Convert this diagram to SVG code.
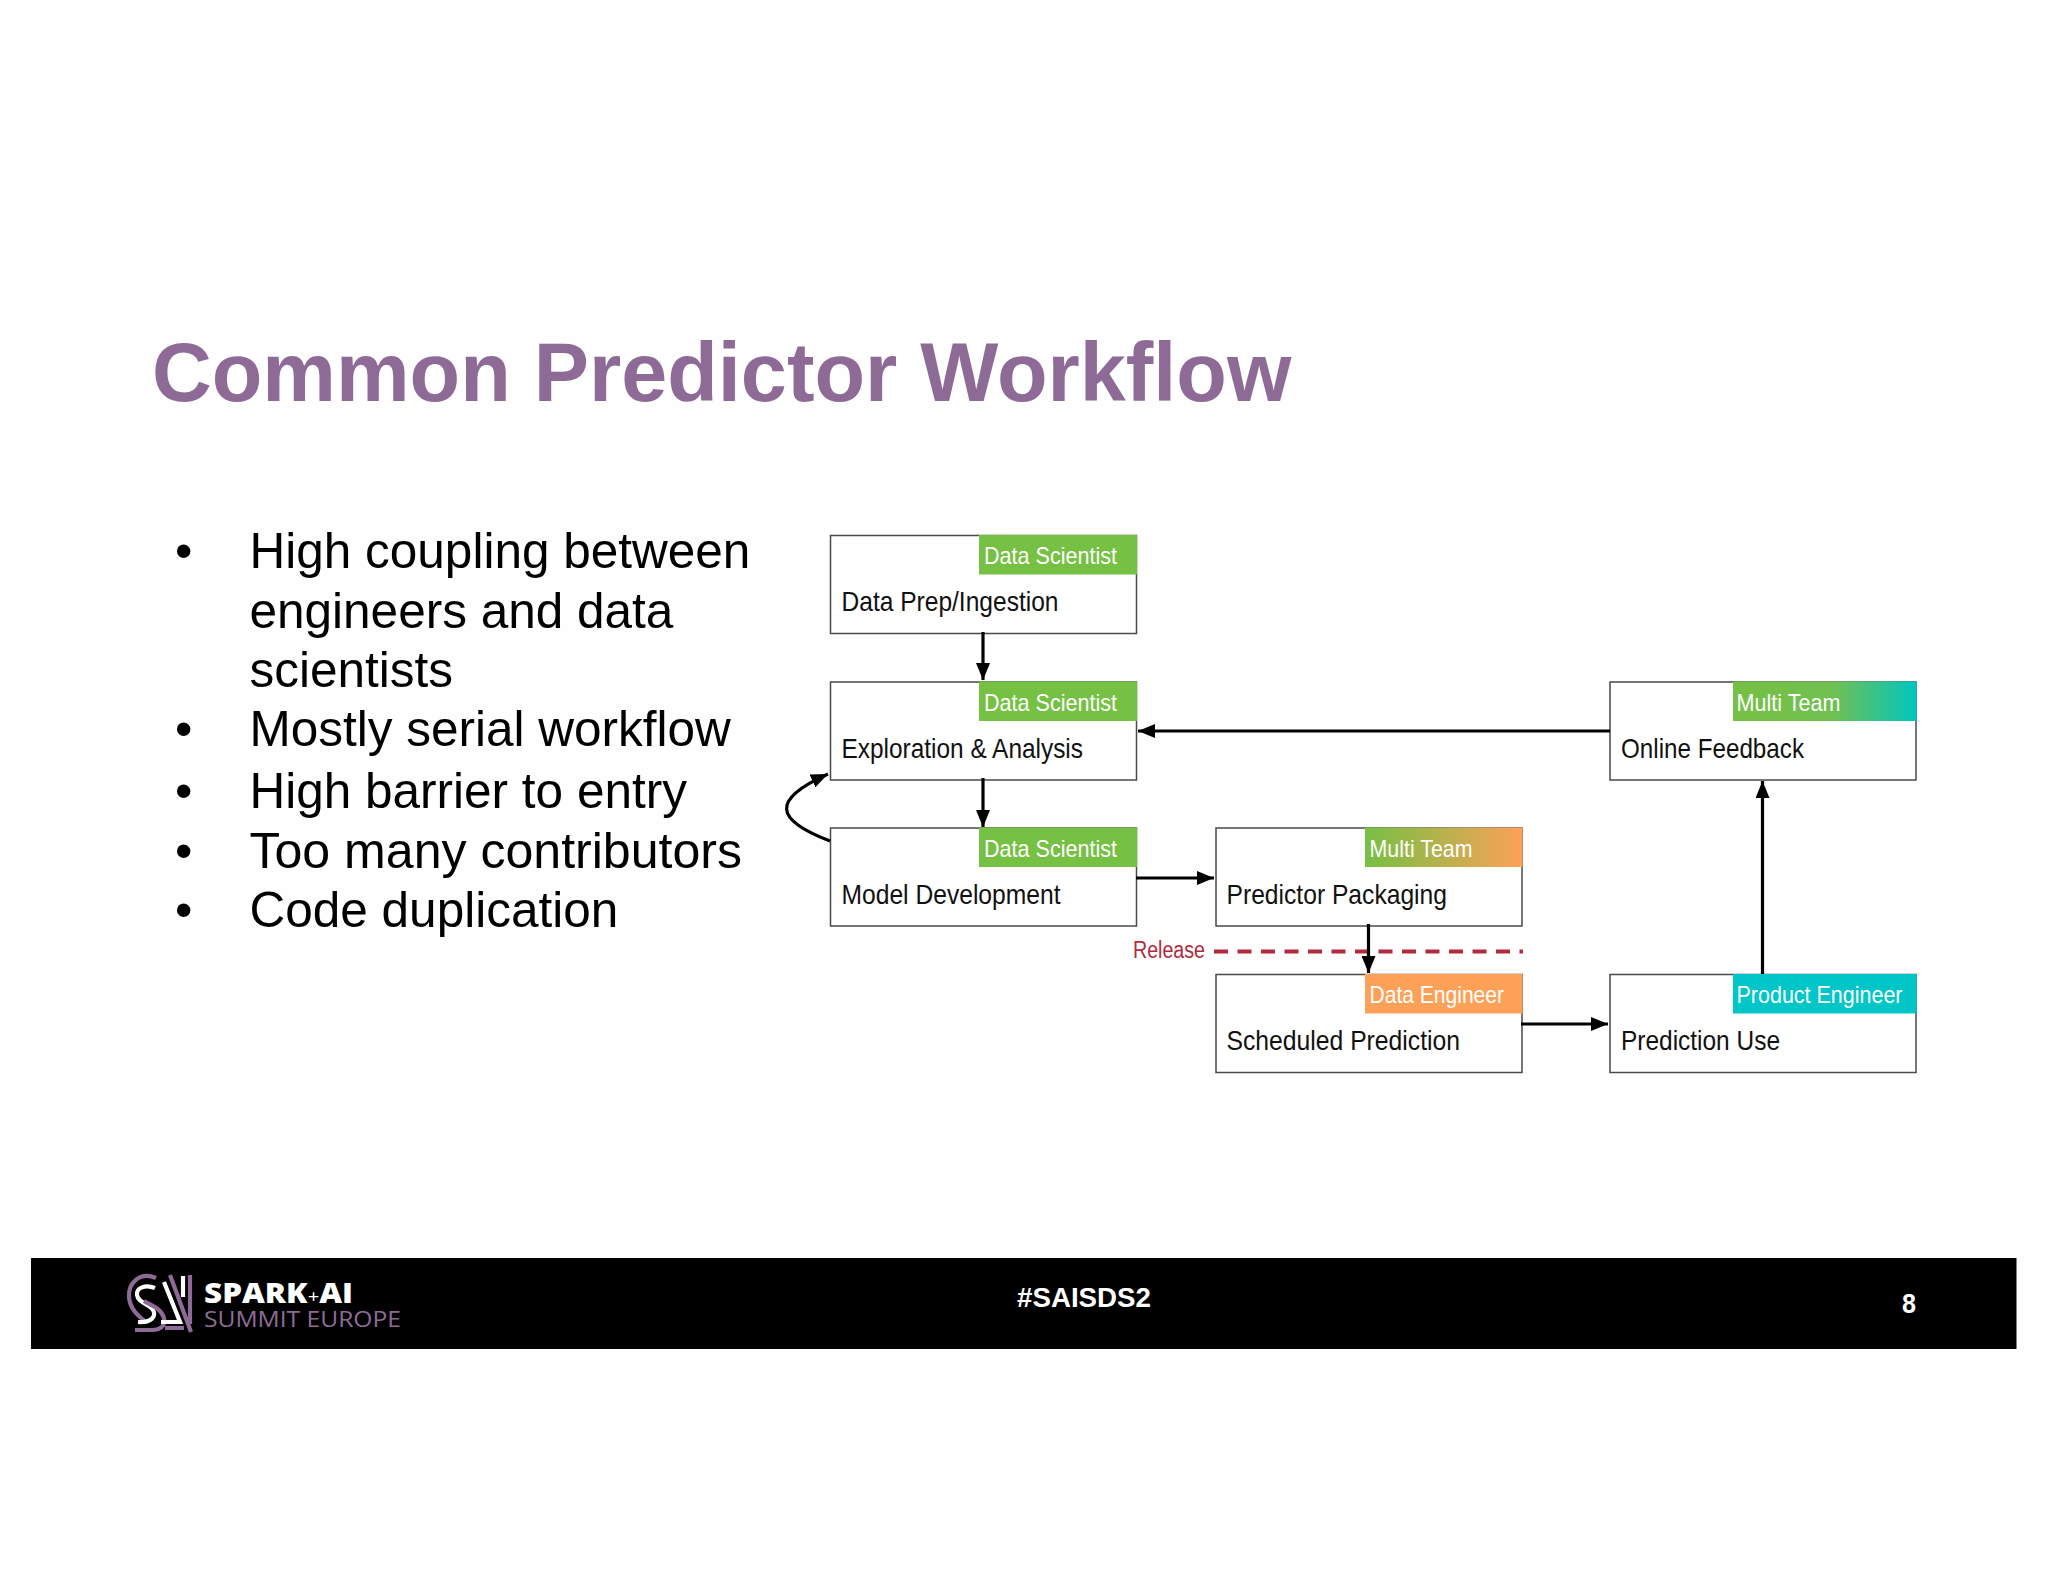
<svg xmlns="http://www.w3.org/2000/svg" width="2048" height="1582" viewBox="0 0 2048 1582">
<style>
text{font-family:"Liberation Sans",Arial,sans-serif}
.box{fill:#fff;stroke:#4a4a4a;stroke-width:1.5}
.tag{fill:#fff;font-size:24px}
.lbl{fill:#111;font-size:28px}
.bul{fill:#000;font-size:49.5px}
.c{fill:none;stroke:#000;stroke-width:3.2}
</style>
<defs>
<marker id="a" markerUnits="userSpaceOnUse" markerWidth="18" markerHeight="14" refX="17" refY="7" orient="auto"><path d="M0 0L17 7L0 14Z" fill="#000"/></marker>
<linearGradient id="g1"><stop offset="0" stop-color="#76c043"/><stop offset="1" stop-color="#fda158"/></linearGradient>
<linearGradient id="g2"><stop offset="0" stop-color="#76c043"/><stop offset=".55" stop-color="#70c052"/><stop offset="1" stop-color="#00c6c0"/></linearGradient>
</defs>
<rect width="2048" height="1582" fill="#fefefe"/>
<text x="152" y="401" font-size="82.800" font-weight="700" fill="#8e6b97">Common Predictor Workflow</text>
<g id="bullets">
<text class="bul" x="175" y="568">•</text><text class="bul" x="249.500" y="568">High coupling between</text>
<text class="bul" x="249.500" y="628">engineers and data</text>
<text class="bul" x="249.500" y="687">scientists</text>
<text class="bul" x="175" y="746">•</text><text class="bul" x="249.500" y="746">Mostly serial workflow</text>
<text class="bul" x="175" y="808">•</text><text class="bul" x="249.500" y="808">High barrier to entry</text>
<text class="bul" x="175" y="868">•</text><text class="bul" x="249.500" y="868" textLength="492.500" lengthAdjust="spacingAndGlyphs">Too many contributors</text>
<text class="bul" x="175" y="927">•</text><text class="bul" x="249.500" y="927">Code duplication</text>
</g>
<g id="n1"><rect class="box" x="830.500" y="535.500" width="306" height="98"/><rect x="979" y="535" width="158" height="39.500" fill="#76c043"/><text class="tag" x="984" y="564" textLength="133" lengthAdjust="spacingAndGlyphs">Data Scientist</text><text class="lbl" x="841.500" y="611" textLength="217" lengthAdjust="spacingAndGlyphs">Data Prep/Ingestion</text></g>
<g id="n2"><rect class="box" x="830.500" y="682" width="306" height="98"/><rect x="979" y="681.500" width="158" height="39.500" fill="#76c043"/><text class="tag" x="984" y="710.500" textLength="133" lengthAdjust="spacingAndGlyphs">Data Scientist</text><text class="lbl" x="841.500" y="757.500" textLength="241.500" lengthAdjust="spacingAndGlyphs">Exploration &amp; Analysis</text></g>
<g id="n3"><rect class="box" x="830.500" y="828" width="306" height="98"/><rect x="979" y="827.500" width="158" height="39.500" fill="#76c043"/><text class="tag" x="984" y="856.500" textLength="133" lengthAdjust="spacingAndGlyphs">Data Scientist</text><text class="lbl" x="841.500" y="903.500" textLength="219" lengthAdjust="spacingAndGlyphs">Model Development</text></g>
<g id="n4"><rect class="box" x="1216" y="828" width="306" height="98"/><rect x="1365" y="827.500" width="157.500" height="39.500" fill="url(#g1)"/><text class="tag" x="1369.500" y="856.500" textLength="103" lengthAdjust="spacingAndGlyphs">Multi Team</text><text class="lbl" x="1226.500" y="903.500" textLength="220.500" lengthAdjust="spacingAndGlyphs">Predictor Packaging</text></g>
<g id="n5"><rect class="box" x="1216" y="974.500" width="306" height="98"/><rect x="1365" y="974" width="157.500" height="39.500" fill="#fda158"/><text class="tag" x="1369.500" y="1003" textLength="134.500" lengthAdjust="spacingAndGlyphs">Data Engineer</text><text class="lbl" x="1226.500" y="1050" textLength="233.500" lengthAdjust="spacingAndGlyphs">Scheduled Prediction</text></g>
<g id="n6"><rect class="box" x="1610" y="974.500" width="306" height="98"/><rect x="1733" y="974" width="183.500" height="39.500" fill="#00c6c8"/><text class="tag" x="1736.500" y="1003" textLength="166" lengthAdjust="spacingAndGlyphs">Product Engineer</text><text class="lbl" x="1621" y="1050" textLength="159" lengthAdjust="spacingAndGlyphs">Prediction Use</text></g>
<g id="n7"><rect class="box" x="1610" y="682" width="306" height="98"/><rect x="1733" y="681.500" width="183.500" height="39.500" fill="url(#g2)"/><text class="tag" x="1736.500" y="710.500" textLength="104" lengthAdjust="spacingAndGlyphs">Multi Team</text><text class="lbl" x="1621" y="757.500" textLength="183" lengthAdjust="spacingAndGlyphs">Online Feedback</text></g>
<g id="connectors">
<path d="M1214 951.500H1523" fill="none" stroke="#b12a3d" stroke-width="4" stroke-dasharray="14 9.500"/>
<path class="c" marker-end="url(#a)" d="M983 632V680"/>
<path class="c" marker-end="url(#a)" d="M983 778V827"/>
<path class="c" marker-end="url(#a)" d="M1136 878H1214"/>
<path class="c" marker-end="url(#a)" d="M1368.500 924V973"/>
<path class="c" marker-end="url(#a)" d="M1521 1024H1608"/>
<path class="c" marker-end="url(#a)" d="M1762.500 974V781"/>
<path class="c" marker-end="url(#a)" d="M1610 731H1138"/>
<path class="c" marker-end="url(#a)" d="M830 841C775 820 770 800 828 774"/>
</g>
<text x="1133" y="958" font-size="23" fill="#b12a3d" textLength="72" lengthAdjust="spacingAndGlyphs">Release</text>
<g id="footer">
<rect x="31" y="1258" width="1985.500" height="91" fill="#000"/>
<g id="logo" fill="none" stroke-width="4.200">
<path d="M156 1278C140 1271 128 1283 129 1297C130 1309 138 1316 146 1322" stroke="#8e6b97"/>
<path d="M155 1288C145 1284 136 1288 137 1295C138 1303 150 1304 153 1310C157 1317 150 1323 138 1322" stroke="#fff"/>
<path d="M144 1301C150 1305 161 1308 164 1318C166 1326 160 1330 152 1330L135 1330" stroke="#8e6b97"/>
<path d="M183 1276V1297" stroke="#fff"/>
<path d="M164 1282L180 1322H161" stroke="#fff"/>
<path d="M190 1275V1324M170 1275L191 1332M165 1328H184" stroke="#8e6b97"/>
</g>
<text x="204" y="1303" font-size="28" font-weight="800" fill="#fff" textLength="149" lengthAdjust="spacingAndGlyphs" style="font-family:'Open Sans','Liberation Sans',sans-serif">SPARK<tspan font-size="18" font-weight="400">+</tspan>AI</text>
<text x="204" y="1327" font-size="21" fill="#8e6b97" textLength="197" lengthAdjust="spacingAndGlyphs" style="font-family:'Open Sans','Liberation Sans',sans-serif">SUMMIT EUROPE</text>
<text x="1017" y="1307" font-size="28" font-weight="700" fill="#fff" textLength="134" lengthAdjust="spacingAndGlyphs">#SAISDS2</text>
<text x="1902" y="1313" font-size="28" font-weight="700" fill="#fff" textLength="14" lengthAdjust="spacingAndGlyphs">8</text>
</g>
</svg>
